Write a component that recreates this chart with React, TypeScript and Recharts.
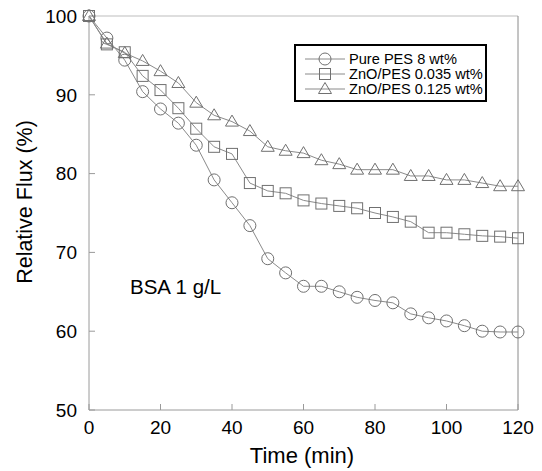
import React from "react";
import { LineChart, Line, XAxis, YAxis, ReferenceLine, Legend } from "recharts";

const time = [0, 5, 10, 15, 20, 25, 30, 35, 40, 45, 50, 55, 60, 65, 70, 75, 80, 85, 90, 95, 100, 105, 110, 115, 120];
const purePes = [100, 97.2, 94.4, 90.4, 88.2, 86.4, 83.6, 79.2, 76.3, 73.4, 69.2, 67.4, 65.7, 65.7, 65.0, 64.3, 63.9, 63.6, 62.2, 61.7, 61.3, 60.7, 60.0, 59.9, 59.9];
const zno035 = [100, 96.4, 95.4, 92.4, 90.6, 88.3, 85.7, 83.4, 82.5, 78.8, 77.8, 77.5, 76.6, 76.2, 75.9, 75.6, 75.0, 74.5, 73.9, 72.5, 72.5, 72.3, 72.1, 72.0, 71.8];
const zno125 = [100, 96.5, 95.3, 94.3, 93.0, 91.5, 89.0, 87.4, 86.6, 85.4, 83.4, 82.9, 82.6, 81.7, 81.2, 80.5, 80.5, 80.5, 79.7, 79.7, 79.2, 79.2, 78.8, 78.4, 78.4];
const xTicks = [0, 20, 40, 60, 80, 100, 120];
const yTicks = [50, 60, 70, 80, 90, 100];
const seriesNames = ["Pure PES 8 wt%", "ZnO/PES 0.035 wt%", "ZnO/PES 0.125 wt%"];

const data = time.map((t, i) => ({ t, pure: purePes[i], z035: zno035[i], z125: zno125[i] }));

const FONT = "'Liberation Sans', Arial, sans-serif";
const LINE = "#8a8a8a";
const MARK = "#707070";

type Shape = "circle" | "square" | "triangle";

function marker(shape: Shape, cx: number, cy: number, key?: string | number) {
  if (shape === "circle") {
    return <circle key={key} cx={cx} cy={cy} r={6} fill="none" stroke={MARK} strokeWidth={1} />;
  }
  if (shape === "square") {
    return <rect key={key} x={cx - 5.5} y={cy - 5.5} width={11} height={11} fill="none" stroke={MARK} strokeWidth={1} />;
  }
  return (
    <path key={key} d={`M${cx},${cy - 6.5} L${cx - 6.5},${cy + 4.5} L${cx + 6.5},${cy + 4.5} Z`} fill="none" stroke={MARK} strokeWidth={1} />
  );
}

const shapes: Shape[] = ["circle", "square", "triangle"];

function makeDot(shape: Shape) {
  return (props: any) => {
    const { cx, cy, index } = props;
    if (cx == null || cy == null) return <g key={index} />;
    return marker(shape, cx, cy, index);
  };
}

function LegendBox(props: any) {
  const payload = props.payload || [];
  return (
    <svg width={189} height={54} style={{ display: "block" }}>
      {payload.map((p: any, i: number) => {
        const idx = seriesNames.indexOf(p.value);
        const y = 13 + i * 15;
        return (
          <g key={p.value}>
            <line x1={9} x2={49} y1={y} y2={y} stroke={LINE} strokeWidth={1} />
            {marker(shapes[idx >= 0 ? idx : i], 29, y)}
            <text x={53} y={y + 5} fontSize={14.6} fontFamily={FONT} fill="#000">{p.value}</text>
          </g>
        );
      })}
    </svg>
  );
}

export default function App() {
  return (
    <div style={{ position: "absolute", left: 0, top: 0, width: 542, height: 471, background: "#fff" }}>
      <LineChart width={542} height={471} data={data} margin={{ top: 16, right: 24, bottom: 31, left: 29 }}>
        <XAxis
          dataKey="t"
          type="number"
          domain={[0, 120]}
          ticks={xTicks}
          height={30}
          tickSize={-6}
          tickMargin={17}
          stroke="#9a9a9a"
          tick={{ fill: "#000", fontSize: 19, fontFamily: FONT }}
        />
        <YAxis
          type="number"
          domain={[50, 100]}
          ticks={yTicks}
          width={60}
          tickSize={-6}
          tickMargin={18}
          stroke="#9a9a9a"
          tick={{ fill: "#000", fontSize: 19, fontFamily: FONT }}
        />
        <ReferenceLine y={100} stroke="#bdbdbd" strokeWidth={1} />
        <ReferenceLine x={120} stroke="#8a8a8a" strokeWidth={1} />
        <Line dataKey="pure" name={seriesNames[0]} stroke={LINE} strokeWidth={1} dot={makeDot("circle")} activeDot={false} isAnimationActive={false} />
        <Line dataKey="z035" name={seriesNames[1]} stroke={LINE} strokeWidth={1} dot={makeDot("square")} activeDot={false} isAnimationActive={false} />
        <Line dataKey="z125" name={seriesNames[2]} stroke={LINE} strokeWidth={1} dot={makeDot("triangle")} activeDot={false} isAnimationActive={false} />
        <Legend
          layout="horizontal"
          verticalAlign="middle"
          align="center"
          content={LegendBox}
          wrapperStyle={{ left: 294, top: 44, width: 189, height: 54, border: "2px solid #000", background: "#fff" }}
        />
        <text x={130} y={294} fontSize={20.5} fontFamily={FONT} fill="#000">BSA 1 g/L</text>
        <text x={302} y={463} fontSize={22} fontFamily={FONT} fill="#000" textAnchor="middle">Time (min)</text>
        <text
          x={32}
          y={202}
          fontSize={21.5}
          fontFamily={FONT}
          fill="#000"
          textAnchor="middle"
          transform="rotate(-90 32 202)"
        >
          Relative Flux (%)
        </text>
      </LineChart>
    </div>
  );
}
